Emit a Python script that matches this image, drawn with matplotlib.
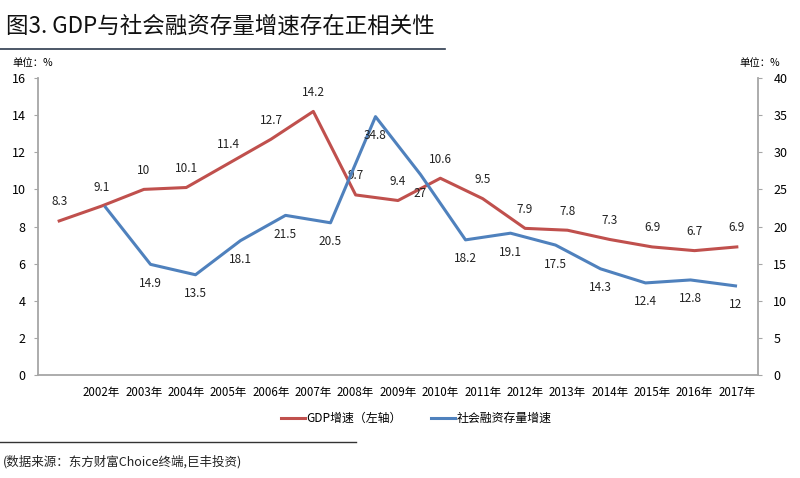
import matplotlib
matplotlib.use('Agg')
import matplotlib.pyplot as plt
from matplotlib.lines import Line2D

plt.rcParams['font.family'] = ['Noto Sans CJK SC', 'DejaVu Sans']

# GDP增速, 2001-2017 (左轴)
gdp_years = ['', '2002年', '2003年', '2004年', '2005年', '2006年', '2007年', '2008年', '2009年',
             '2010年', '2011年', '2012年', '2013年', '2014年', '2015年', '2016年', '2017年']
gdp = [8.3, 9.1, 10, 10.1, 11.4, 12.7, 14.2, 9.7, 9.4, 10.6, 9.5, 7.9, 7.8, 7.3, 6.9, 6.7, 6.9]

# 社会融资存量增速 (右轴), 16 categories, first empty
sf_cats = list(range(16))
sf = [None, 22.6, 14.9, 13.5, 18.1, 21.5, 20.5, 34.8, 27, 18.2, 19.1, 17.5, 14.3, 12.4, 12.8, 12]
sf_labels = [None, None, '14.9', '13.5', '18.1', '21.5', '20.5', '34.8', '27', '18.2', '19.1',
             '17.5', '14.3', '12.4', '12.8', '12']

red = '#C0504D'
blue = '#4F81BD'
grey = '#A6A6A6'

fig = plt.figure(figsize=(8, 4.78), dpi=100)
rect = [0.0475, 0.2155, 0.90, 0.6213]
ax = fig.add_axes(rect)
ax2 = fig.add_axes(rect, facecolor='none')

x = list(range(len(gdp)))
ax.plot(x, gdp, color=red, lw=2.2, solid_joinstyle='round')
for xi, v in zip(x, gdp):
    ax.annotate(f'{v:g}', (xi, v), xytext=(0, 9), textcoords='offset points',
                ha='center', va='bottom', fontsize=8.5, color='#222222')
ax.set_xlim(-0.5, len(gdp) - 0.5)
ax.set_ylim(0, 16)
ax.set_yticks(range(0, 17, 2))
ax.set_xticks(x)
ax.set_xticklabels(gdp_years, fontsize=8.3)
ax.tick_params(axis='x', length=0, pad=8)
ax.tick_params(axis='y', length=3, color=grey, labelsize=9, pad=6, direction='out')

sx = [c for c, v in zip(sf_cats, sf) if v is not None]
sv = [v for v in sf if v is not None]
ax2.plot(sx, sv, color=blue, lw=2.2, solid_joinstyle='round')
for c, v, lab in zip(sf_cats, sf, sf_labels):
    if lab is not None:
        ax2.annotate(lab, (c, v), xytext=(0, -9), textcoords='offset points',
                     ha='center', va='top', fontsize=8.5, color='#222222')
ax2.set_xlim(-0.5, len(sf_cats) - 0.5)
ax2.set_ylim(0, 40)
ax2.set_yticks(range(0, 41, 5))
ax2.xaxis.set_visible(False)
ax2.yaxis.tick_right()
ax2.tick_params(axis='y', length=3, color=grey, labelsize=9, pad=8, direction='out')

for a in (ax, ax2):
    for s in a.spines.values():
        s.set_visible(False)
ax.spines['left'].set_visible(True)
ax.spines['bottom'].set_visible(True)
ax2.spines['right'].set_visible(True)
for s in (ax.spines['left'], ax.spines['bottom'], ax2.spines['right']):
    s.set_color(grey)
    s.set_linewidth(1.3)

# title and notes
fig.text(0.008, 0.945, '图3. GDP与社会融资存量增速存在正相关性', fontsize=16.2,
         ha='left', va='center', color='#111111')
fig.add_artist(Line2D([0.0, 0.556], [0.897, 0.897], color='#2E3B4E', lw=1.2))
fig.text(0.015, 0.868, '单位：%', fontsize=7.5, ha='left', va='center')
fig.text(0.975, 0.868, '单位：%', fontsize=7.5, ha='right', va='center')

# legend
leg_handles = [Line2D([], [], color=red, lw=2.2), Line2D([], [], color=blue, lw=2.2)]
fig.legend(leg_handles, ['GDP增速（左轴）', '社会融资存量增速'], loc='center',
           bbox_to_anchor=(0.52, 0.125), ncol=2, frameon=False, fontsize=8.6,
           handlelength=2.0, handletextpad=0.1, columnspacing=2.5)

fig.add_artist(Line2D([0.0, 0.445], [0.075, 0.075], color='#333333', lw=1.0))
fig.text(0.004, 0.033, '(数据来源：东方财富Choice终端,巨丰投资)', fontsize=9,
         ha='left', va='center', color='#222222')

fig.savefig('out.png', dpi=100)
